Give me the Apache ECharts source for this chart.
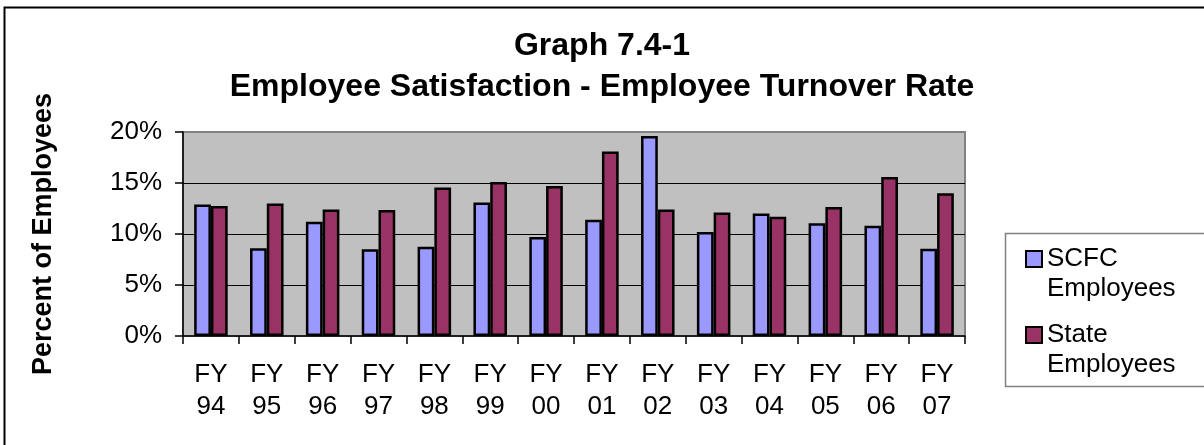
<!DOCTYPE html>
<html>
<head>
<meta charset="utf-8">
<script src="https://cdn.jsdelivr.net/npm/echarts@6/dist/echarts.min.js"></script>
<style>
html,body{margin:0;padding:0;background:#fff;}
#chart{width:1204px;height:445px;}
</style>
</head>
<body>
<div id="chart"></div>
<script>
var categories = ['FY\n94','FY\n95','FY\n96','FY\n97','FY\n98','FY\n99','FY\n00','FY\n01','FY\n02','FY\n03','FY\n04','FY\n05','FY\n06','FY\n07'];
var scfcValues = [12.9, 8.6, 11.2, 8.5, 8.75, 13.1, 9.7, 11.4, 19.6, 10.2, 12.0, 11.05, 10.8, 8.55];
var stateValues = [12.75, 13.0, 12.4, 12.35, 14.55, 15.1, 14.7, 18.1, 12.4, 12.1, 11.7, 12.65, 15.6, 14.0];
var seriesNames = ['SCFC Employees', 'State Employees'];
var yTicks = [0, 5, 10, 15, 20];
var titleText = 'Graph 7.4-1\nEmployee Satisfaction - Employee Turnover Rate';
var yAxisName = 'Percent of Employees';

var FONT = '"Liberation Sans", Arial, sans-serif';
var chart = echarts.init(document.getElementById('chart'), null, {renderer: 'canvas'});
chart.setOption({
  backgroundColor: '#ffffff',
  animation: false,
  title: {
    text: titleText,
    left: 'center',
    top: 26,
    padding: 0,
    textStyle: {fontFamily: FONT, fontSize: 32, fontWeight: 'bold', color: '#000', lineHeight: 41}
  },
  graphic: [
    {type: 'rect', shape: {x: 4.5, y: 7.5, width: 1300, height: 500}, style: {fill: 'none', stroke: '#000', lineWidth: 2}, silent: true, z: 100},
    {type: 'rect', shape: {x: 1005.5, y: 233.5, width: 210, height: 153}, style: {fill: 'none', stroke: '#808080', lineWidth: 1.5}, silent: true, z: 100}
  ],
  legend: {
    orient: 'vertical',
    left: 1025,
    top: 214,
    padding: 0,
    itemGap: -14,
    itemWidth: 16,
    itemHeight: 16,
    icon: 'rect',
    itemStyle: {borderColor: '#000', borderWidth: 2},
    formatter: function (n) { return '\n' + n.replace(' ', '\n'); },
    textStyle: {fontFamily: FONT, fontSize: 26, color: '#000', lineHeight: 30},
    data: seriesNames
  },
  grid: {
    left: 183, top: 132, right: 239, bottom: 109,
    show: true, backgroundColor: '#C0C0C0', borderColor: '#808080', borderWidth: 2
  },
  xAxis: {
    type: 'category',
    data: categories,
    axisLine: {show: true, lineStyle: {color: '#000', width: 1.5}},
    axisTick: {show: true, length: 8, alignWithLabel: false, lineStyle: {color: '#000', width: 1.5}},
    axisLabel: {fontFamily: FONT, fontSize: 26, color: '#000', lineHeight: 32, margin: 23, interval: 0}
  },
  yAxis: {
    type: 'value',
    min: yTicks[0],
    max: yTicks[yTicks.length - 1],
    interval: yTicks[1] - yTicks[0],
    name: yAxisName,
    nameLocation: 'middle',
    nameRotate: 90,
    nameGap: 126,
    nameTextStyle: {fontFamily: FONT, fontSize: 27, fontWeight: 'bold', color: '#000'},
    axisLine: {show: true, lineStyle: {color: '#000', width: 1.5}},
    axisTick: {show: true, length: 8, inside: false, lineStyle: {color: '#000', width: 1.5}},
    axisLabel: {fontFamily: FONT, fontSize: 26, color: '#000', margin: 21, formatter: '{value}%'},
    splitLine: {show: true, showMinLine: false, showMaxLine: false, lineStyle: {color: '#000', width: 1}}
  },
  series: [
    {
      name: seriesNames[0], type: 'bar', data: scfcValues,
      barGap: '0%', barCategoryGap: '40%',
      itemStyle: {color: '#9999FF', borderColor: '#000', borderWidth: 2.5}
    },
    {
      name: seriesNames[1], type: 'bar', data: stateValues,
      barGap: '0%', barCategoryGap: '40%',
      itemStyle: {color: '#993366', borderColor: '#000', borderWidth: 2.5}
    }
  ]
});
</script>
</body>
</html>
